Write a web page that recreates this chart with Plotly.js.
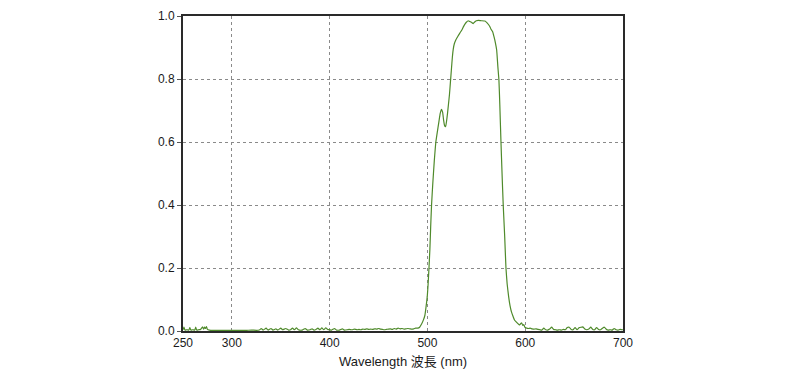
<!DOCTYPE html>
<html>
<head>
<meta charset="utf-8">
<script src="https://cdn.plot.ly/plotly-3.0.1.min.js"></script>
<style>html,body{margin:0;padding:0;background:#fff;}#chart{width:800px;height:381px;}</style>
</head>
<body>
<div id="chart"></div>
<script>
const wavelength = [250,251,252,254,256,257,258,260,262,263,264,266,268,270,271,272,273,274,275,277,280,285,290,295,300,305,310,315,320,325,328,330,332,335,337,340,342,345,347,350,352,355,358,360,362,364,366,368,372,375,377,380,382,384,386,388,390,392,394,396,398,400,402,405,407,410,413,415,418,420,423,425,428,430,432,434,436,438,440,442,444,446,448,450,452,454,456,458,460,462,464,466,468,470,472,474,476,478,480,482,484,486,488,490,492,494,496,497.4,498.5,499.8,500.7,501.5,502.5,503.3,504.2,505.5,507,508.6,510,511.5,513,514.3,515.5,516.5,517.5,518.6,519.5,520.5,521.5,522.5,523.5,524.5,525.5,526.4,527.5,529,531,533,535,537,538.5,540,541.7,543,545,546.8,548,550,552,555,558.8,561,563.9,565,566.7,568,569.5,570.8,572,573.1,574,575.2,576.3,577.5,579,580.3,581.5,583,584.5,586,587.7,589,590.5,592,593.9,595,596.3,597.5,598.5,599.7,601,603,605,607,609,611,613,615,617,619,621,623,625,627,629,631,633,635,637,639,641,643,645,647,649,651,653,655,657,659,661,663,665,667,669,671,673,675,677,679,681,683,685,687,689,691,693,695,697,699,700];
const transmittance = [0.004,0.012,0.003,0.004,0.003,0.011,0.003,0.004,0.003,0.012,0.003,0.004,0.005,0.013,0.006,0.012,0.008,0.014,0.005,0.003,0.002,0.002,0.002,0.002,0.002,0.002,0.002,0.002,0.003,0.002,0.003,0.008,0.003,0.009,0.003,0.008,0.003,0.007,0.003,0.009,0.004,0.008,0.003,0.004,0.009,0.004,0.010,0.004,0.003,0.008,0.003,0.004,0.007,0.003,0.005,0.009,0.004,0.010,0.004,0.010,0.005,0.004,0.003,0.008,0.003,0.003,0.007,0.003,0.004,0.005,0.004,0.006,0.004,0.005,0.004,0.006,0.005,0.007,0.005,0.006,0.005,0.007,0.006,0.008,0.006,0.005,0.004,0.005,0.006,0.007,0.005,0.008,0.006,0.009,0.007,0.008,0.006,0.007,0.008,0.007,0.006,0.007,0.009,0.009,0.012,0.022,0.036,0.05,0.075,0.109,0.15,0.196,0.26,0.33,0.40,0.47,0.54,0.60,0.63,0.66,0.69,0.704,0.695,0.67,0.652,0.649,0.665,0.69,0.72,0.75,0.79,0.83,0.87,0.895,0.912,0.924,0.935,0.945,0.955,0.967,0.975,0.981,0.985,0.983,0.98,0.976,0.98,0.985,0.986,0.985,0.984,0.978,0.966,0.958,0.950,0.935,0.915,0.892,0.84,0.797,0.72,0.60,0.50,0.40,0.30,0.20,0.15,0.11,0.08,0.06,0.045,0.035,0.03,0.025,0.019,0.022,0.026,0.018,0.02,0.012,0.01,0.008,0.009,0.007,0.006,0.007,0.005,0.004,0.003,0.009,0.004,0.003,0.006,0.012,0.005,0.004,0.003,0.004,0.003,0.005,0.004,0.011,0.012,0.005,0.004,0.011,0.004,0.010,0.012,0.013,0.006,0.004,0.006,0.012,0.005,0.004,0.011,0.005,0.004,0.009,0.012,0.005,0.003,0.004,0.003,0.008,0.004,0.003,0.005,0.004,0.004];
const xTickValues = [250,300,400,500,600,700];
const xTickLabels = ["250","300","400","500","600","700"];
const yTickValues = [0,0.2,0.4,0.6,0.8,1.0];
const yTickLabels = ["0.0","0.2","0.4","0.6","0.8","1.0"];

const trace = {
  x: wavelength, y: transmittance, type: 'scatter', mode: 'lines',
  line: {color: '#4f8a2b', width: 1.2, shape: 'spline', smoothing: 0.4}, hoverinfo: 'skip'
};
const font = {family: '"Liberation Sans", Arial, sans-serif', size: 12, color: '#1a1a1a'};
const layout = {
  width: 800, height: 381,
  margin: {l: 183, r: 177, t: 16, b: 50},
  paper_bgcolor: '#fff', plot_bgcolor: '#fff',
  showlegend: false,
  font: font,
  xaxis: {
    range: [250, 700], tickmode: 'array', tickvals: xTickValues, ticktext: xTickLabels,
    showline: true, mirror: true, linecolor: '#2a2a2a', linewidth: 2,
    showgrid: true, gridcolor: '#8a8a8a', griddash: 'dot', gridwidth: 1,
    ticks: '', zeroline: false,
    tickfont: {family: font.family, size: 12, color: '#1a1a1a'},
    title: {text: 'Wavelength 波長 (nm)', font: {family: '"Liberation Sans", "Noto Sans CJK JP", Arial, sans-serif', size: 13, color: '#1a1a1a'}, standoff: 7}
  },
  yaxis: {
    range: [0, 1.0], tickmode: 'array', tickvals: yTickValues, ticktext: yTickLabels,
    showline: true, mirror: true, linecolor: '#2a2a2a', linewidth: 2,
    showgrid: true, gridcolor: '#8a8a8a', griddash: 'dot', gridwidth: 1,
    ticks: 'outside', ticklen: 4, tickcolor: '#555', tickwidth: 1, zeroline: false,
    tickfont: {family: font.family, size: 12, color: '#1a1a1a'}
  }
};
Plotly.newPlot('chart', [trace], layout, {staticPlot: true, displayModeBar: false});
</script>
</body>
</html>
